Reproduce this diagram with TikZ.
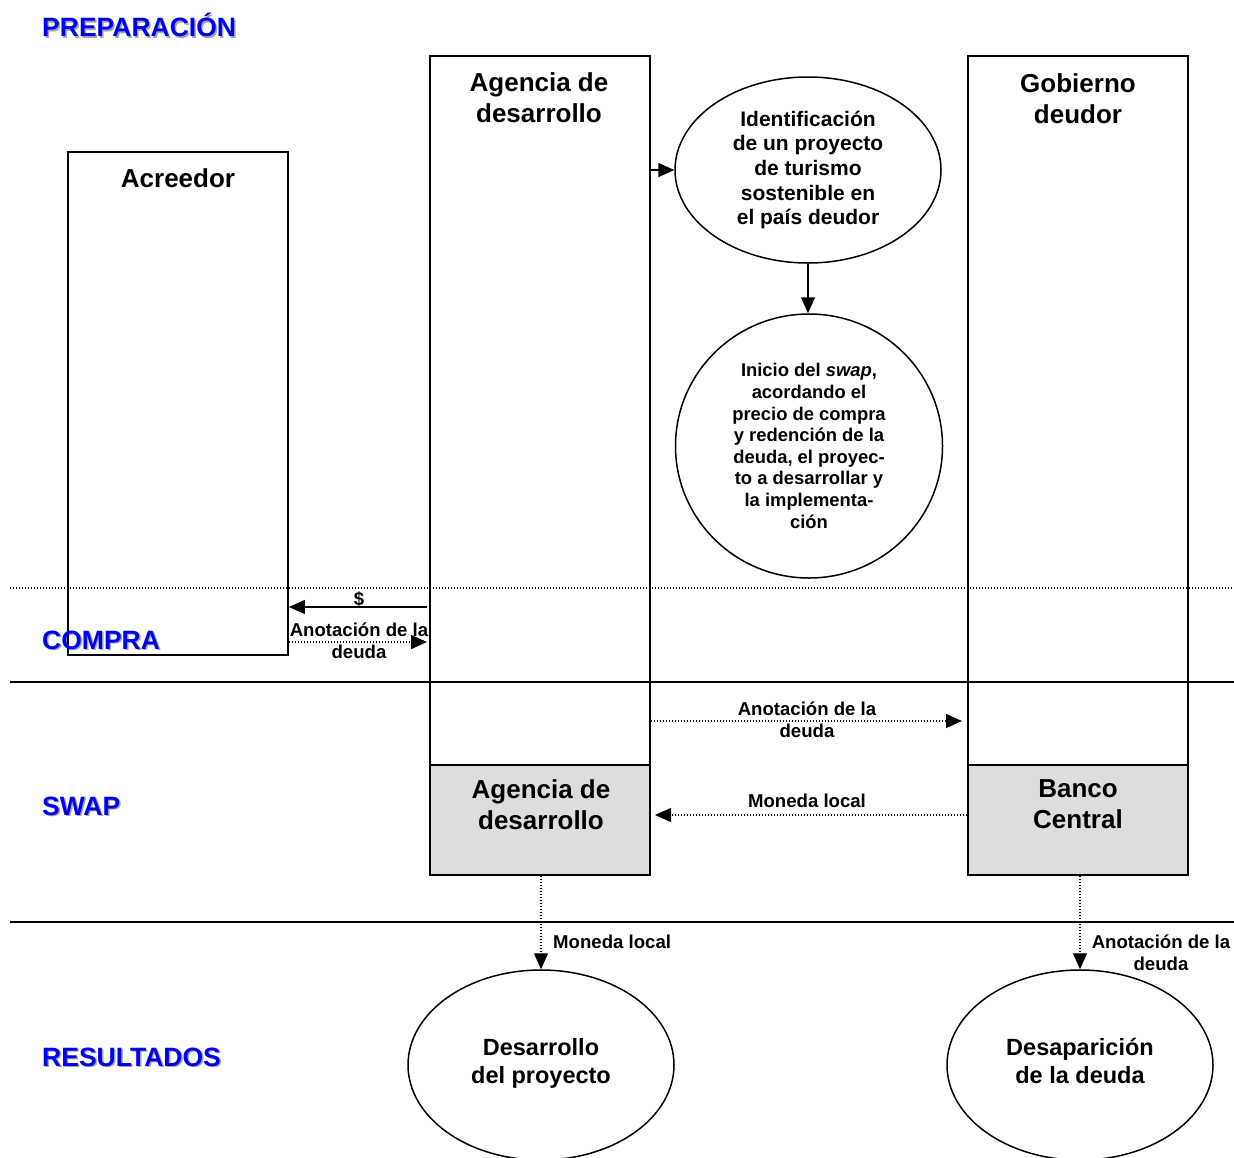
\documentclass[tikz,border=0pt]{standalone}
\usepackage{fontspec}
\setmainfont{Liberation Sans}
\usetikzlibrary{arrows.meta,shapes.geometric}
\definecolor{phase}{RGB}{0,0,240}
\definecolor{boxgray}{RGB}{221,221,221}
\begin{document}
\begin{tikzpicture}[x=1pt,y=-1pt,
  box/.style={draw,line width=1.8pt,rectangle,inner sep=0pt,minimum width=220pt},
  graybox/.style={box,fill=boxgray},
  oval/.style={draw,line width=1.5pt,ellipse,inner sep=0pt,align=center,font=\bfseries},
  title/.style={align=center,font=\fontsize{26}{31}\selectfont\bfseries,inner sep=0pt},
  lbl/.style={align=center,font=\fontsize{18.6}{22}\selectfont\bfseries,inner sep=0pt},
  phasetxt/.style={anchor=west,inner sep=0pt,font=\fontsize{26.5}{31}\selectfont\bfseries},
  solidarrow/.style={line width=1.5pt,-{Triangle[length=16pt,width=14pt]}},
  dotarrow/.style={line width=1.3pt,dash pattern=on 1.3pt off 1.7pt,-{Triangle[length=16pt,width=14pt]}},
  sepdot/.style={line width=1.3pt,dash pattern=on 1.3pt off 1.7pt},
  sepsolid/.style={line width=2pt}]
\useasboundingbox (0,0) rectangle (1234,1157);

% phase labels shadow
\foreach \t/\y in {PREPARACIÓN/25, COMPRA/640, SWAP/806, RESULTADOS/1057}{
  \node[phasetxt,text=black!35] at (43.5,\y+1.5) {\t};
}

% separators
\coordinate (d1) at (10,588); \coordinate (d2) at (1234,588);
\coordinate (s1) at (10,682); \coordinate (s2) at (1234,682);
\coordinate (r1) at (10,922); \coordinate (r2) at (1234,922);
\draw[sepdot] (d1) -- (d2);
\draw[sepsolid] (s1) -- (s2);
\draw[sepsolid] (r1) -- (r2);

% boxes
\node[box,minimum height=503pt] (acre) at (178,403.5) {};
\node[title] (acret) at (178,178) {Acreedor};
\node[box,minimum height=709pt] (agen) at (540,410.5) {};
\node[title] (agent) at (539,97.5) {Agencia de\\desarrollo};
\node[box,minimum height=709pt] (gob) at (1078,410.5) {};
\node[title] (gobt) at (1078,98.5) {Gobierno\\deudor};
\node[graybox,minimum height=110pt] (agen2) at (540,820) {};
\node[title] (agen2t) at (541,805) {Agencia de\\desarrollo};
\node[graybox,minimum height=110pt] (banco) at (1078,820) {};
\node[title] (bancot) at (1078,804.5) {Banco\\Central};

% ellipses
\node[oval,minimum width=266pt,minimum height=186pt,font=\fontsize{21}{24.7}\selectfont\bfseries] (e1) at (808,170)
  {Identificación\\de un proyecto\\de turismo\\sostenible en\\el país deudor};
\node[oval,minimum width=267pt,minimum height=264pt,font=\fontsize{18.4}{21.6}\selectfont\bfseries] (e2) at (809,446)
  {Inicio del \textit{swap},\\acordando el\\precio de compra\\y redención de la\\deuda, el proyec-\\to a desarrollar y\\la implementa-\\ción};
\node[oval,minimum width=266pt,minimum height=190pt] (e3) at (541,1065) {};
\node[title,font=\fontsize{23.5}{28}\selectfont\bfseries] (e3t) at (541,1063.5) {Desarrollo\\del proyecto};
\node[oval,minimum width=266pt,minimum height=190pt] (e4) at (1080,1065) {};
\node[title,font=\fontsize{23.5}{28}\selectfont\bfseries] (e4t) at (1080,1061) {Desaparición\\de la deuda};

% connectors
\draw[solidarrow] (agen.east |- e1.west) -- (e1.west);
\draw[solidarrow] (e1.south) -- (e1.south |- e2.north);

\coordinate (c1) at (427,607);
\draw[solidarrow] (c1) -- (acre.east |- c1);
\node[lbl] (l1) at (359,599) {\$};
\coordinate (c2) at (427,642);
\draw[dotarrow] (acre.east |- c2) -- (c2);
\node[lbl] (l2) at (359,641) {Anotación de la\\deuda};

\coordinate (c3) at (962,721);
\draw[dotarrow] (agen.east |- c3) -- (c3);
\node[lbl] (l3) at (807,720) {Anotación de la\\deuda};

\coordinate (c4) at (655,815);
\draw[dotarrow] (banco.west |- c4) -- (c4);
\node[lbl] (l4) at (807,801) {Moneda local};

\draw[dotarrow] (agen2.south -| e3.north) -- (e3.north);
\node[lbl,anchor=west] (l5) at (553,942) {Moneda local};
\draw[dotarrow] (banco.south -| e4.north) -- (e4.north);
\node[lbl] (l6) at (1161,953) {Anotación de la\\deuda};

% phase labels (front)
\foreach \t/\y in {PREPARACIÓN/25, COMPRA/640, SWAP/806, RESULTADOS/1057}{
  \node[phasetxt,text=phase] at (42,\y) {\t};
}
\end{tikzpicture}
\end{document}
